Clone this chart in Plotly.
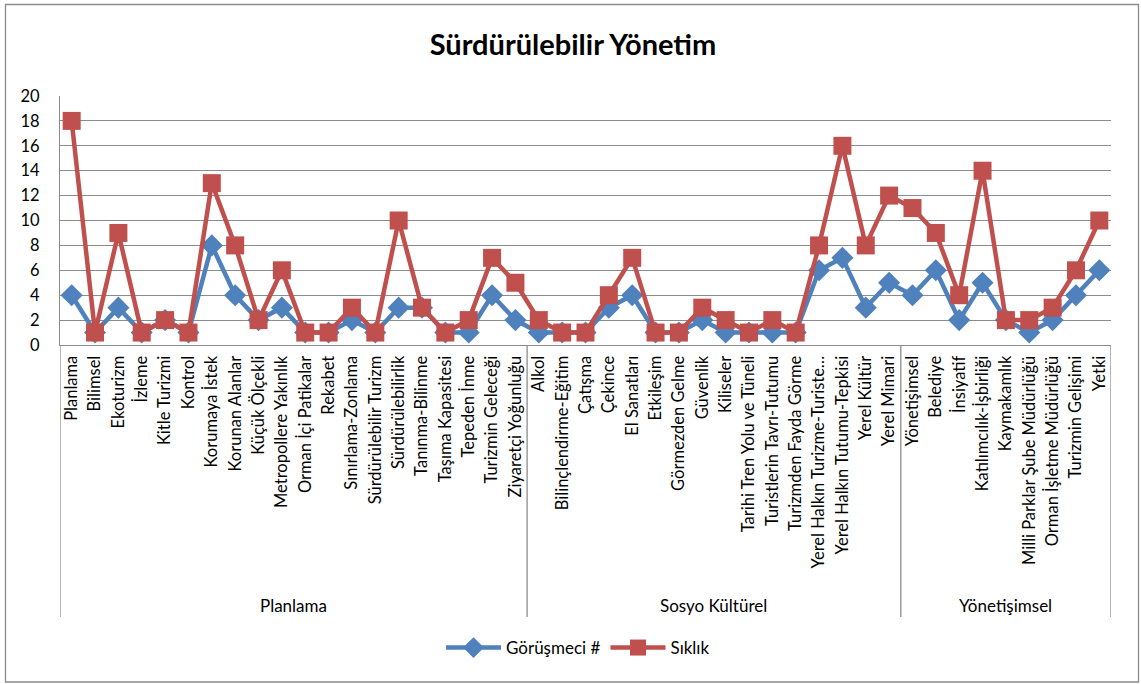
import plotly.graph_objects as go

groups = ["Planlama", "Sosyo Kültürel", "Yönetişimsel"]
group_sizes = [20, 16, 9]

categories = [
    "Planlama", "Bilimsel", "Ekoturizm", "İzleme", "Kitle Turizmi", "Kontrol",
    "Korumaya İstek", "Korunan Alanlar", "Küçük Ölçekli", "Metropollere Yakınlık",
    "Orman İçi Patikalar", "Rekabet", "Sınırlama-Zonlama", "Sürdürülebilir Turizm",
    "Sürdürülebilirlik", "Tanınma-Bilinme", "Taşıma Kapasitesi", "Tepeden İnme",
    "Turizmin Geleceği", "Ziyaretçi Yoğunluğu",
    "Alkol", "Bilinçlendirme-Eğitim", "Çatışma", "Çekince", "El Sanatları",
    "Etkileşim", "Görmezden Gelme", "Güvenlik", "Kiliseler",
    "Tarihi Tren Yolu ve Tüneli", "Turistlerin Tavrı-Tutumu", "Turizmden Fayda Görme",
    "Yerel Halkın Turizme-Turiste…", "Yerel Halkın Tutumu-Tepkisi", "Yerel Kültür",
    "Yerel Mimari",
    "Yönetişimsel", "Belediye", "İnsiyatif", "Katılımcılık-İşbirliği", "Kaymakamlık",
    "Milli Parklar Şube Müdürlüğü", "Orman İşletme Müdürlüğü", "Turizmin Gelişimi",
    "Yetki",
]

gorusmeci = [
    4, 1, 3, 1, 2, 1, 8, 4, 2, 3, 1, 1, 2, 1, 3, 3, 1, 1, 4, 2,
    1, 1, 1, 3, 4, 1, 1, 2, 1, 1, 1, 1, 6, 7, 3, 5,
    4, 6, 2, 5, 2, 1, 2, 4, 6,
]
siklik = [
    18, 1, 9, 1, 2, 1, 13, 8, 2, 6, 1, 1, 3, 1, 10, 3, 1, 2, 7, 5,
    2, 1, 1, 4, 7, 1, 1, 3, 2, 1, 2, 1, 8, 16, 8, 12,
    11, 9, 4, 14, 2, 2, 3, 6, 10,
]

y_ticks = [0, 2, 4, 6, 8, 10, 12, 14, 16, 18, 20]

FONT = "Lato"
GRID = "#8c8c8c"

fig = go.Figure()
fig.add_trace(go.Scatter(
    x=categories, y=gorusmeci, name="Görüşmeci #", mode="lines+markers",
    line=dict(color="#4F81BD", width=4.5),
    marker=dict(symbol="diamond", size=17, color="#4F81BD"),
))
fig.add_trace(go.Scatter(
    x=categories, y=siklik, name="Sıklık", mode="lines+markers",
    line=dict(color="#C0504D", width=4.5),
    marker=dict(symbol="square", size=18, color="#C0504D"),
))

# plot area geometry (pixels)
L, R, T, B = 60, 30, 96, 339
W, H = 1141, 684
pw, ph = W - L - R, H - T - B

def px_to_py(y):
    return (H - B - y) / ph

def px_to_px(x):
    return (x - L) / pw

shapes = []
bounds = [-0.5]
acc = -0.5
for s in group_sizes:
    acc += s
    bounds.append(acc)
for b in bounds:
    shapes.append(dict(type="line", xref="x", yref="paper", x0=b, x1=b,
                       y0=0, y1=px_to_py(617), line=dict(color=GRID, width=1.3)))
shapes.append(dict(type="rect", xref="paper", yref="paper",
                   x0=px_to_px(5.5), x1=px_to_px(1138.5), y0=px_to_py(682), y1=px_to_py(4.5),
                   line=dict(color="#8c8c8c", width=1.3), fillcolor="rgba(0,0,0,0)", layer="below"))

annotations = []
start = 0
for g, s in zip(groups, group_sizes):
    center = start + (s - 1) / 2
    annotations.append(dict(text=g, x=center, xref="x", y=px_to_py(605), yref="paper",
                            showarrow=False, font=dict(family=FONT, size=17, color="black"),
                            xanchor="center", yanchor="middle"))
    start += s

fig.update_layout(
    width=W, height=H,
    margin=dict(l=L, r=R, t=T, b=B, autoexpand=False),
    paper_bgcolor="white", plot_bgcolor="white",
    title=dict(text="<b>Sürdürülebilir Yönetim</b>", x=573 / W, xref="container", xanchor="center",
               y=1 - 45 / H, yref="container", yanchor="middle",
               font=dict(family=FONT, size=29, color="black")),
    font=dict(family=FONT, size=17, color="black"),
    showlegend=True,
    legend=dict(orientation="h", x=px_to_px(578), xanchor="center", xref="paper",
                y=px_to_py(648), yanchor="middle", itemwidth=55,
                font=dict(family=FONT, size=17, color="black")),
    shapes=shapes,
    annotations=annotations,
)
fig.update_xaxes(
    type="category", tickangle=-90, showgrid=False,
    showline=True, linecolor=GRID, linewidth=1.3,
    range=[-0.5, len(categories) - 0.5],
    tickfont=dict(family=FONT, size=16.5, color="black"),
    ticks="", ticklabelstandoff=3,
)
fig.update_yaxes(
    range=[0, 20], tickvals=y_ticks, showgrid=True, gridcolor=GRID, gridwidth=1.3,
    showline=True, linecolor=GRID, linewidth=1.3, zeroline=False,
    tickfont=dict(family=FONT, size=16.5, color="black"),
    ticks="", ticklabelstandoff=16,
)

fig.write_html("out.html", config={"displayModeBar": False},
               post_script="document.body.style.margin='0';")
